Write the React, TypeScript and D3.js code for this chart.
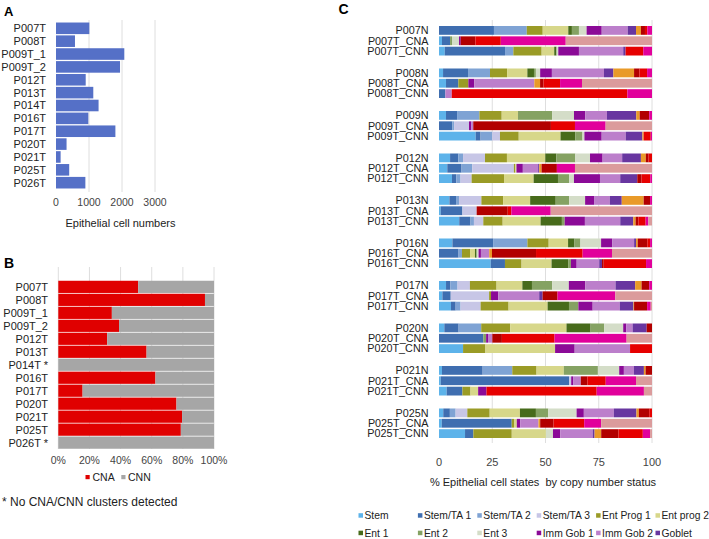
import React from "react";
import * as d3 from "d3";

// ---------- Panel A data ----------
const samplesA = ["P007T","P008T","P009T_1","P009T_2","P012T","P013T","P014T","P016T","P017T","P020T","P021T","P025T","P026T"];
const epithelialCells = [1010, 575, 2070, 1940, 900, 1130, 1290, 980, 1800, 320, 140, 400, 890];
const ticksA = [0, 1000, 2000, 3000];

// ---------- Panel B data ----------
const samplesB = ["P007T","P008T","P009T_1","P009T_2","P012T","P013T","P014T *","P016T","P017T","P020T","P021T","P025T","P026T *"];
const cnaPct = [51.3, 94.2, 34.4, 39.0, 31.4, 56.7, 0, 62.4, 15.6, 75.9, 79.5, 78.7, 0];
const cnnPct = [48.7, 5.8, 65.6, 61.0, 68.6, 43.3, 100, 37.6, 84.4, 24.1, 20.5, 21.3, 100];
const ticksB = [0, 20, 40, 60, 80, 100];

// ---------- Panel C data ----------
const patients = ["P007","P008","P009","P012","P013","P016","P017","P020","P021","P025"];
const statusSuffix = ["N","T_CNA","T_CNN"];
const cellStates = ["Stem","Stem/TA 1","Stem/TA 2","Stem/TA 3","Ent Prog 1","Ent prog 2","Ent 1","Ent 2","Ent 3","Imm Gob 1","Imm Gob 2","Goblet","State 13","State 14","State 15","State 16","State 17"];
const legendStates = cellStates.slice(0, 12);
const stateColors = ["#5db3ea","#3f6eb0","#7fa3d4","#c7c6e6","#9a9b26","#d7d78a","#476b1b","#85a263","#d4ddc8","#8b0a97","#bc7fcb","#6836a0","#e99a29","#b20000","#e60000","#e1009b","#db9b9c"];
// one row per sample (patient x status), columns follow cellStates
const stateShares = [
  [0, 25.8, 15.4, 0, 7.5, 12, 1.7, 3.3, 3.6, 7.1, 12.2, 3.9, 2.3, 1.9, 1.1, 2.2, 0],
  [1.4, 3.8, 0, 0, 0, 0, 0, 0.9, 3.3, 0.8, 0, 0, 0, 6.9, 11.9, 30.5, 40.5],
  [2.7, 28.3, 3.9, 0, 13.3, 5.9, 1.1, 0, 0.8, 9.7, 20.8, 1.1, 0, 0, 8.3, 4.1, 0],
  [1.9, 11.7, 10.3, 0, 8, 9.5, 3.1, 0.9, 2, 5.5, 24.4, 4.4, 9.7, 2.5, 3.6, 2.3, 0],
  [3.3, 5.8, 0, 0, 4.7, 0, 0, 0, 0, 2.8, 28.2, 0, 2.7, 1.6, 7.8, 10.3, 32.9],
  [0, 3, 0, 0, 0, 0, 0, 0, 0, 0, 3, 0, 0, 0, 82.5, 11.6, 0],
  [3.3, 5.2, 10.5, 0, 10.5, 7.7, 0.3, 15.7, 10.3, 5.3, 10.2, 13.8, 1.6, 4.5, 0, 1.3, 0],
  [0, 6.3, 0.8, 7, 0, 0, 0, 0, 0, 1, 1, 0, 0, 36.5, 11.3, 14.4, 21.8],
  [17.2, 2.3, 5.5, 3.6, 8.8, 19.6, 6.9, 3.4, 0.9, 8.1, 11.3, 7.8, 0.6, 0, 3.3, 0.6, 0],
  [5.2, 3.9, 2.2, 10.3, 10.3, 18, 5.2, 8.9, 6.9, 5.9, 9.2, 8.8, 2.3, 1.3, 1.6, 0, 0],
  [3.9, 6.7, 5, 19.6, 0.6, 0.6, 0, 0, 0, 3, 7.2, 0.5, 1.1, 7.2, 0, 8.5, 36.2],
  [6.1, 2, 2, 5.2, 15.2, 13.9, 11.4, 5.3, 2.2, 12.2, 9.5, 8, 0, 2, 4.1, 0.8, 0],
  [4.9, 3.1, 1.4, 10.5, 10.2, 12.7, 12, 6.3, 7.5, 4.2, 7.4, 5.6, 10.3, 3, 0, 0.9, 0],
  [0.8, 10.2, 0, 6.7, 0, 0, 0, 0, 0, 0, 0, 0, 0, 14.6, 1.7, 18.5, 47.6],
  [9.5, 5.3, 1.6, 4.4, 9.1, 17.8, 10, 1.3, 0, 9.5, 16.6, 6.1, 1.1, 1.3, 3.4, 1.3, 1.7],
  [6.3, 19.1, 16.1, 0, 10, 9.1, 3, 2.8, 9.7, 5.2, 10.3, 0.9, 0.8, 4.5, 1.3, 0.9, 0],
  [0, 9.2, 1.6, 0, 3.8, 2.3, 0.8, 0, 0.9, 1.1, 3.9, 0, 1.3, 20.7, 21.9, 13.8, 18.8],
  [24.3, 6.7, 0, 0, 7.8, 14.1, 7.8, 1.3, 0, 2.7, 10.6, 1.3, 0, 0.8, 19.9, 2.8, 0],
  [3.3, 2, 3.4, 5.8, 12.5, 12.1, 4.5, 9.5, 7.8, 7.7, 14.2, 9.2, 3, 3.6, 0, 1.3, 0],
  [1.6, 3.9, 0, 18, 0.9, 0, 0, 0, 0, 3.4, 19.2, 1.6, 0, 7, 0, 27.1, 17.2],
  [5.6, 2.2, 2.3, 9.4, 13.1, 18.3, 10, 4.4, 0, 6.7, 12.7, 6.4, 0.3, 6.1, 0, 1.7, 0.6],
  [2.5, 6.7, 10.6, 0, 13.6, 26.4, 11.3, 6.4, 8.9, 1.4, 3, 6.6, 0, 2.5, 0, 0, 0],
  [0, 20.8, 0, 0, 0, 0, 0, 1.3, 0, 0.9, 2, 0, 0, 4.5, 24.7, 33.8, 11.9],
  [11.3, 0, 0, 0, 10.5, 32.7, 0, 0, 0, 9.2, 26, 0, 0, 0, 10.3, 0, 0],
  [1.4, 19.1, 13.9, 0, 11.4, 12.8, 0, 16, 10, 2.2, 4.7, 4.7, 0.8, 3, 0, 0, 0],
  [0.8, 60.3, 0, 0.9, 0, 0, 0, 0, 0, 0.9, 3.6, 0, 0, 3.1, 8.6, 14.2, 7.5],
  [3.6, 7.4, 0, 0, 3.8, 3.6, 0, 0, 0, 3.9, 0, 0, 0, 0, 51.8, 22.2, 3.8],
  [2, 3.1, 2.7, 5.5, 10.5, 14.2, 7.5, 5.8, 13.3, 3.4, 14.1, 10.6, 1.1, 4.9, 1.3, 0, 0],
  [1.3, 32.9, 0, 0, 1.1, 1.3, 0, 0, 0, 1.6, 8.6, 0, 0.8, 6.3, 14.4, 8, 23.9],
  [12.2, 3.9, 0, 0, 18, 16, 0, 0, 3.3, 3.4, 15.2, 0.9, 3.1, 8.1, 11.4, 3.4, 0.9],
];
const ticksC = [0, 25, 50, 75, 100];

const FONT = "'Liberation Sans', Arial, Helvetica, sans-serif";
const TXT = "#222";
const TICK = "#444";
const GRID = "#dedede";

export default function App() {
  // ---- A ----
  const xA = d3.scaleLinear().domain([0, 3000]).range([56, 155]);
  const yA = d3.scaleBand<string>().domain(samplesA).range([22, 189]).paddingInner(0.1).paddingOuter(0.04);

  // ---- B ----
  const xB = d3.scaleLinear().domain([0, 100]).range([58.3, 214]);
  const yB = d3.scaleBand<string>().domain(samplesB).range([280.5, 449]).paddingInner(0.06).paddingOuter(0.02);

  // ---- C ----
  const xC = d3.scaleLinear().domain([0, 1]).range([439, 652]);
  const yGroup = d3.scaleBand<string>().domain(patients).range([26, 451]);
  const yRow = d3.scaleBand<number>().domain([0, 1, 2]).range([0, 29.5]).paddingInner(0.15);
  const rows = patients.flatMap((p, gi) =>
    statusSuffix.map((s, ri) => ({ label: p + s, patient: p, ri, idx: gi * 3 + ri }))
  );
  const tableC = stateShares.map((vals) => {
    const o: Record<string, number> = {};
    cellStates.forEach((k, i) => (o[k] = vals[i]));
    return o;
  });
  const stacked = d3.stack<Record<string, number>>().keys(cellStates).offset(d3.stackOffsetExpand)(tableC);

  const legendX0 = 358.5;
  const legendDx = 59.4;
  const legendY = [515.5, 533];

  return (
    <svg width={709} height={539} style={{ position: "absolute", left: 0, top: 0, background: "#fff" }} fontFamily={FONT}>
      <rect width={709} height={539} fill="#fff" />
      {/* Panel letters */}
      <text x={4} y={15.5} fontSize={13} fontWeight="bold" fill="#000">A</text>
      <text x={4} y={267.5} fontSize={14} fontWeight="bold" fill="#000">B</text>
      <text x={338.5} y={14} fontSize={14} fontWeight="bold" fill="#000">C</text>

      {/* ===== Panel A ===== */}
      {ticksA.filter((t) => t > 0).map((t) => (
        <line key={"ga" + t} x1={xA(t)} x2={xA(t)} y1={20} y2={192} stroke={GRID} strokeWidth={1} />
      ))}
      {samplesA.map((s, i) => (
        <rect key={"ba" + s} x={xA(0)} y={yA(s)!} width={xA(epithelialCells[i]) - xA(0)} height={yA.bandwidth()} fill="#5570c7" />
      ))}
      {samplesA.map((s) => (
        <text key={"la" + s} x={46} y={yA(s)! + yA.bandwidth() / 2} dy="0.36em" textAnchor="end" fontSize={11} fill={TXT}>{s}</text>
      ))}
      {ticksA.map((t) => (
        <text key={"ta" + t} x={xA(t)} y={205.5} textAnchor="middle" fontSize={10.5} fill={TICK}>{t}</text>
      ))}
      <text x={120.5} y={226.5} textAnchor="middle" fontSize={11} fill={TXT}>Epithelial cell numbers</text>

      {/* ===== Panel B ===== */}
      {ticksB.map((t) => (
        <line key={"gb" + t} x1={xB(t)} x2={xB(t)} y1={267} y2={449} stroke={GRID} strokeWidth={1} />
      ))}
      {samplesB.map((s, i) => (
        <g key={"bb" + s}>
          <rect x={xB(0)} y={yB(s)!} width={xB(cnaPct[i]) - xB(0)} height={yB.bandwidth()} fill="#e00000" />
          <rect x={xB(cnaPct[i])} y={yB(s)!} width={xB(cnaPct[i] + cnnPct[i]) - xB(cnaPct[i])} height={yB.bandwidth()} fill="#a6a6a6" />
        </g>
      ))}
      {samplesB.map((s) => (
        <text key={"lb" + s} x={48} y={yB(s)! + yB.bandwidth() / 2} dy="0.36em" textAnchor="end" fontSize={11} fill={TXT} style={{ whiteSpace: "pre" }}>{s}</text>
      ))}
      {ticksB.map((t) => (
        <text key={"tb" + t} x={xB(t)} y={464} textAnchor="middle" fontSize={10.5} fill={TICK}>{t + "%"}</text>
      ))}
      <rect x={85.5} y={475} width={4.2} height={4.2} fill="#e00000" />
      <text x={92.5} y={480.8} fontSize={10.5} fill={TXT}>CNA</text>
      <rect x={121.3} y={475} width={4.2} height={4.2} fill="#a6a6a6" />
      <text x={128} y={480.8} fontSize={10.5} fill={TXT}>CNN</text>
      <text x={2} y={505.5} fontSize={12} fill={TXT}>* No CNA/CNN clusters detected</text>

      {/* ===== Panel C ===== */}
      {ticksC.filter((t) => t > 0).map((t) => (
        <line key={"gc" + t} x1={xC(t / 100)} x2={xC(t / 100)} y1={20} y2={443} stroke={GRID} strokeWidth={1} />
      ))}
      {stacked.map((series, si) => (
        <g key={"sc" + si} fill={stateColors[si]}>
          {series.map((d, ri) => {
            const r = rows[ri];
            const w = xC(d[1]) - xC(d[0]);
            if (w <= 0) return null;
            return (
              <rect key={ri} x={xC(d[0])} y={yGroup(r.patient)! + yRow(r.ri)!} width={w} height={yRow.bandwidth()} />
            );
          })}
        </g>
      ))}
      {rows.map((r) => (
        <text key={"lc" + r.label} x={428.5} y={yGroup(r.patient)! + yRow(r.ri)! + yRow.bandwidth() / 2} dy="0.36em" textAnchor="end" fontSize={10.8} fill={TXT}>{r.label}</text>
      ))}
      {ticksC.map((t) => (
        <text key={"tc" + t} x={xC(t / 100)} y={465.5} textAnchor="middle" fontSize={11} fill={TICK}>{t}</text>
      ))}
      <text x={543} y={485.5} textAnchor="middle" fontSize={11} fill={TXT} style={{ whiteSpace: "pre" }}>% Epithelial cell states  by copy number status</text>

      {legendStates.map((s, i) => {
        const col = i % 6;
        const row = Math.floor(i / 6);
        const x = legendX0 + col * legendDx;
        const y = legendY[row];
        return (
          <g key={"lg" + s}>
            <rect x={x} y={y - 2.3} width={4.5} height={4.5} fill={stateColors[i]} />
            <text x={x + 6} y={y} dy="0.35em" fontSize={10.3} fill={TXT}>{s}</text>
          </g>
        );
      })}
    </svg>
  );
}
